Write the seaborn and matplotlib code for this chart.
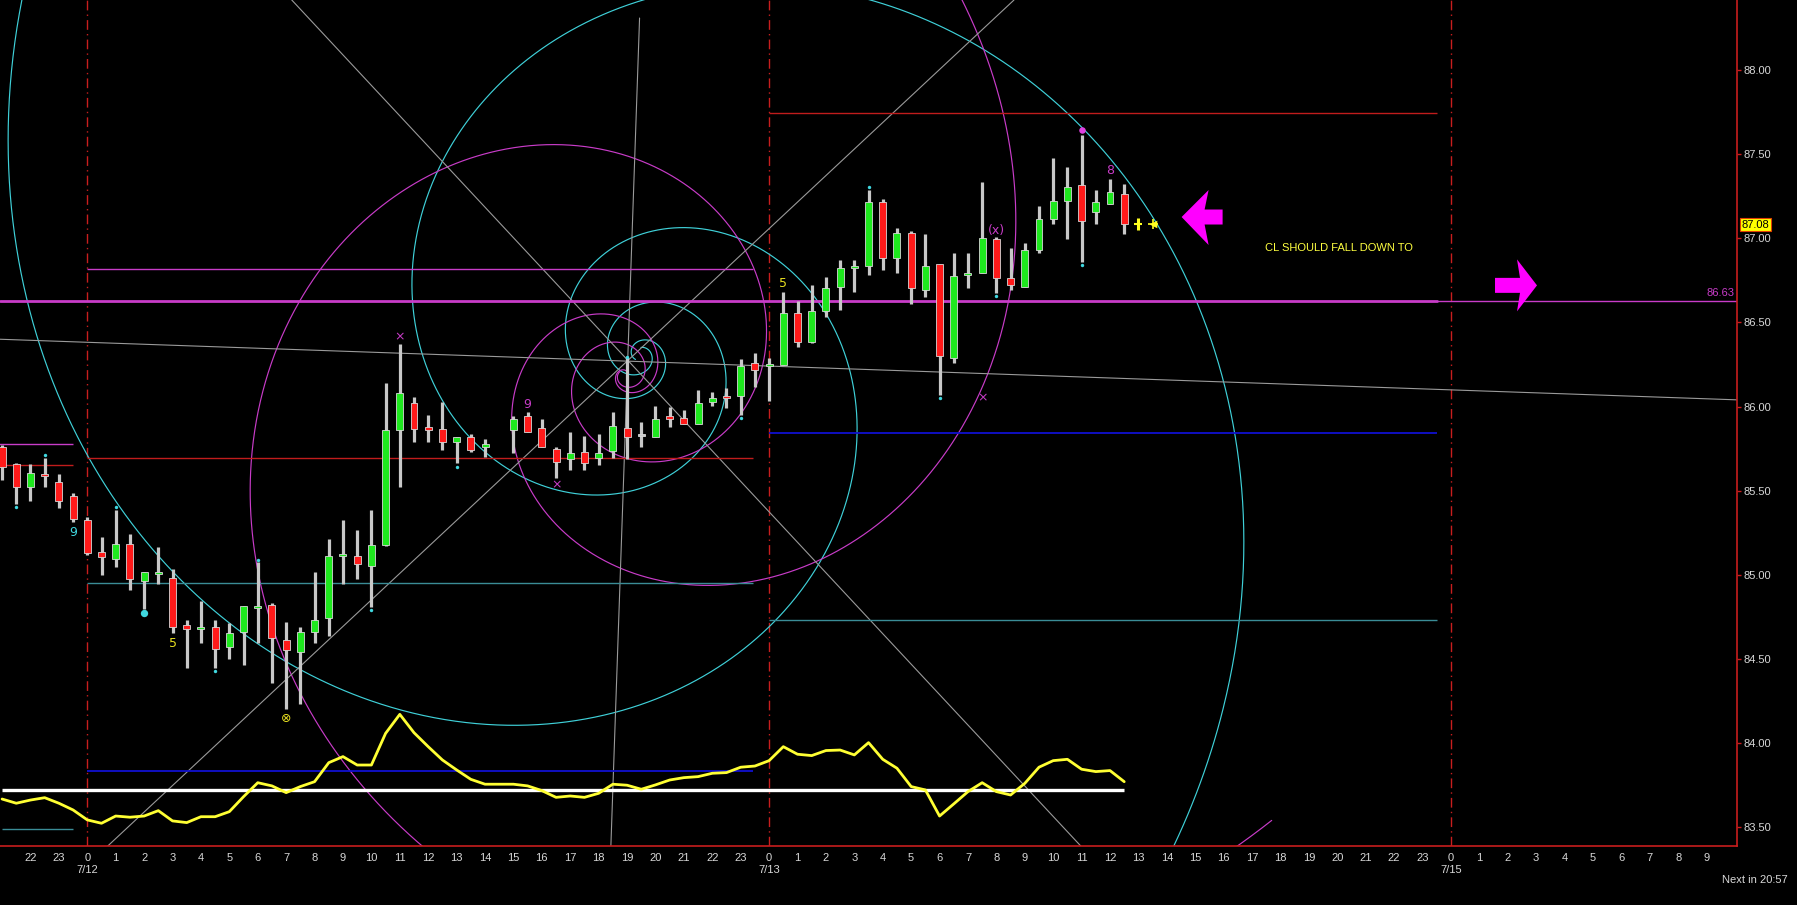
import numpy as np
import pandas as pd
import matplotlib
matplotlib.use("Agg")
import matplotlib.pyplot as plt
import seaborn as sns
from matplotlib.patches import Polygon
from matplotlib.transforms import blended_transform_factory

# ---------------- data (30-minute bars, x = hours from 7/12 00:00) ----------------
bar_hours = [-3.0, -2.5, -2.0, -1.5, -1.0, -0.5, 0.0, 0.5, 1.0, 1.5, 2.0, 2.5, 3.0, 3.5,
             4.0, 4.5, 5.0, 5.5, 6.0, 6.5, 7.0, 7.5, 8.0, 8.5, 9.0, 9.5, 10.0, 10.5,
             11.0, 11.5, 12.0, 12.5, 13.0, 13.5, 14.0, 15.0, 15.5, 16.0, 16.5, 17.0,
             17.5, 18.0, 18.5, 19.0, 19.5, 20.0, 20.5, 21.0, 21.5, 22.0, 22.5, 23.0,
             23.5, 24.0, 24.5, 25.0, 25.5, 26.0, 26.5, 27.0, 27.5, 28.0, 28.5, 29.0,
             29.5, 30.0, 30.5, 31.0, 31.5, 32.0, 32.5, 33.0, 33.5, 34.0, 34.5, 35.0,
             35.5, 36.0, 36.5]
opens = [85.762, 85.659, 85.525, 85.600, 85.554, 85.469, 85.326, 85.135, 85.093, 85.184,
         84.962, 85.006, 84.980, 84.701, 84.679, 84.689, 84.570, 84.661, 84.802, 84.820,
         84.614, 84.540, 84.661, 84.743, 85.113, 85.113, 85.053, 85.176, 85.861, 86.024,
         85.877, 85.865, 85.790, 85.818, 85.758, 85.861, 85.946, 85.875, 85.746, 85.687,
         85.732, 85.693, 85.738, 85.875, 85.826, 85.818, 85.946, 85.934, 85.895, 86.026,
         86.065, 86.065, 86.257, 86.243, 86.247, 86.558, 86.386, 86.570, 86.709, 86.823,
         86.835, 87.217, 86.881, 87.033, 86.693, 86.849, 86.287, 86.782, 86.796, 86.996,
         86.766, 86.709, 86.930, 87.112, 87.219, 87.316, 87.154, 87.203, 87.261]
highs = [85.770, 85.665, 85.659, 85.697, 85.600, 85.489, 85.342, 85.224, 85.386, 85.241,
         85.020, 85.168, 85.034, 84.733, 84.845, 84.733, 84.717, 84.816, 85.079, 84.832,
         84.721, 84.689, 85.016, 85.214, 85.327, 85.267, 85.386, 86.139, 86.372, 86.055,
         85.950, 86.026, 85.822, 85.835, 85.808, 85.946, 85.970, 85.926, 85.762, 85.847,
         85.825, 85.837, 85.966, 86.297, 85.911, 86.004, 85.996, 85.980, 86.099, 86.085,
         86.109, 86.283, 86.317, 86.287, 86.679, 86.627, 86.722, 86.772, 86.871, 86.871,
         87.287, 87.233, 87.059, 87.043, 87.025, 86.849, 86.910, 86.910, 87.332, 87.009,
         86.940, 86.970, 87.191, 87.475, 87.425, 87.613, 87.287, 87.352, 87.322]
lows = [85.564, 85.422, 85.441, 85.525, 85.400, 85.315, 85.121, 85.002, 85.049, 84.911,
        84.796, 84.946, 84.653, 84.448, 84.598, 84.446, 84.499, 84.463, 84.594, 84.356,
        84.202, 84.234, 84.594, 84.639, 84.944, 84.974, 84.812, 85.170, 85.525, 85.792,
        85.792, 85.742, 85.663, 85.732, 85.703, 85.727, 85.847, 85.758, 85.574, 85.624,
        85.624, 85.653, 85.693, 85.687, 85.762, 85.818, 85.877, 85.895, 85.895, 86.004,
        85.990, 85.950, 86.119, 86.035, 86.247, 86.356, 86.376, 86.530, 86.574, 86.679,
        86.782, 86.811, 86.796, 86.610, 86.649, 86.069, 86.257, 86.702, 86.792, 86.677,
        86.693, 86.709, 86.910, 87.083, 86.995, 86.861, 87.083, 87.203, 87.025]
closes = [85.643, 85.525, 85.604, 85.588, 85.441, 85.334, 85.133, 85.105, 85.182, 84.974,
          85.020, 85.020, 84.689, 84.681, 84.693, 84.558, 84.653, 84.816, 84.812, 84.624,
          84.554, 84.661, 84.731, 85.111, 85.123, 85.065, 85.176, 85.861, 86.079, 85.865,
          85.861, 85.792, 85.818, 85.742, 85.776, 85.926, 85.847, 85.758, 85.673, 85.727,
          85.663, 85.727, 85.887, 85.822, 85.826, 85.924, 85.924, 85.895, 86.024, 86.053,
          86.053, 86.243, 86.218, 86.247, 86.558, 86.386, 86.570, 86.707, 86.821, 86.833,
          87.217, 86.881, 87.029, 86.707, 86.837, 86.301, 86.778, 86.796, 87.000, 86.766,
          86.722, 86.930, 87.112, 87.219, 87.302, 87.102, 87.217, 87.273, 87.085]
# yellow oscillator drawn on the price scale
osc_values = [83.669, 83.644, 83.663, 83.677, 83.644, 83.604, 83.545, 83.525, 83.568, 83.561,
              83.568, 83.600, 83.539, 83.529, 83.564, 83.564, 83.594, 83.683, 83.766, 83.747,
              83.707, 83.743, 83.772, 83.885, 83.921, 83.871, 83.871, 84.059, 84.172, 84.063,
              83.980, 83.901, 83.842, 83.786, 83.757, 83.757, 83.747, 83.719, 83.679, 83.687,
              83.679, 83.703, 83.757, 83.751, 83.727, 83.753, 83.782, 83.796, 83.802, 83.822,
              83.826, 83.858, 83.865, 83.897, 83.980, 83.935, 83.927, 83.957, 83.960, 83.931,
              84.004, 83.905, 83.852, 83.743, 83.723, 83.568, 83.640, 83.713, 83.766, 83.713,
              83.693, 83.762, 83.858, 83.897, 83.905, 83.846, 83.832, 83.838, 83.772]

last_price = 87.08
target_price = 86.63
hour_ticks = list(range(-2, 58))
date_ticks = [0, 24, 48]
date_labels = ["7/12", "7/13", "7/15"]
y_ticks = [83.5, 84.0, 84.5, 85.0, 85.5, 86.0, 86.5, 87.0, 87.5, 88.0]

# horizontal drawing-tool levels: (price, x_start, x_end, colour, width)
levels = [
    (87.741, 24.0, 47.5, "#c01c1c", 1.0),
    (86.816, 0.0, 23.43, "#c83cc8", 1.0),
    (85.778, -3.1, -0.5, "#c83cc8", 1.0),
    (85.653, -3.1, -0.5, "#c01c1c", 1.0),
    (85.693, 0.0, 23.43, "#c01c1c", 1.0),
    (85.842, 24.0, 47.5, "#1010d0", 1.3),
    (84.951, 0.0, 23.43, "#3a8c96", 1.0),
    (84.730, 24.0, 47.5, "#3a8c96", 1.0),
    (83.836, 0.0, 23.43, "#1010d0", 1.3),
    (83.720, -3.0, 36.5, "#ffffff", 2.4),
    (83.489, -3.0, -0.5, "#3a8c96", 1.0),
]
# gray trend / angle lines: ((h0, p0), (h1, p1))
gray_lines = [((-3.073, 86.400), (58.07, 86.040)),
              ((7.197, 88.415), (34.97, 83.39)),
              ((0.72, 83.39), (32.62, 88.415)),
              ((19.44, 88.308), (18.43, 83.39))]

# signal marks
cyan_dots = [(-2.5, 85.406), (-1.5, 85.711), (1.0, 85.402), (4.5, 84.432), (6.0, 85.089),
             (10.0, 84.792), (13.0, 85.643), (19.0, 86.297), (23.0, 85.934), (27.5, 87.302),
             (30.0, 86.049), (32.0, 86.659), (35.0, 86.841)]
labels_marks = [(-0.5, 85.251, "9", "#40d8e0"), (3.0, 84.590, "5", "#e8e020"),
                (7.0, 84.149, "\u2297", "#e8e020"), (11.0, 86.412, "\u00d7", "#c83cc8"),
                (15.5, 86.010, "9", "#c83cc8"), (16.5, 85.535, "\u00d7", "#c83cc8"),
                (24.5, 86.732, "5", "#e8e020"), (31.5, 86.049, "\u00d7", "#c83cc8"),
                (32.0, 87.043, "(x)", "#c83cc8"), (36.0, 87.405, "8", "#c83cc8")]

# ---------------- style ----------------
sns.set_theme(style="dark")
plt.rcParams["font.family"] = ["Liberation Sans", "DejaVu Sans"]

PX_H = 28.41    # pixels per hour
PX_P = 168.36   # pixels per dollar

fig = plt.figure(figsize=(17.97, 9.05), dpi=100, facecolor="black")
ax = fig.add_axes([0, 1 - 846 / 905, 1737 / 1797, 846 / 905])
ax.set_facecolor("black")
ax.grid(False)
XMIN, XMAX = -3.073, 58.07
YMIN, YMAX = 83.39, 88.415

# Fibonacci-style spirals (drawing tools): r = r0 * exp(b * (t - t_ref)) in pixels
def spiral(ch, cp, r0, b, t_ref, t0, t1):
    t = np.linspace(t0, t1, 3000)
    r = r0 * np.exp(b * (t - t_ref))
    return ch + r * np.cos(t) / PX_H, cp + r * np.sin(t) / PX_P

cy_c = (19.454, 86.307)
for r0, b, tr, t0, t1 in [(576, -0.31, 0.0, -1.3, 14.0), (657, -0.34, 2.86, 1.8, 16.5)]:
    xs, ys = spiral(cy_c[0], cy_c[1], r0, b, tr, t0, t1)
    ax.plot(xs, ys, color="#3fd0d8", lw=0.85, zorder=2)
mg_c = (18.927, 86.188)
for r0, b, tr, t0, t1 in [(135, 0.31, 0.0, -10.0, 5.68), (427, 0.394, 6.70, -5.5, 9.9)]:
    xs, ys = spiral(mg_c[0], mg_c[1], r0, b, tr, t0, t1)
    ax.plot(xs, ys, color="#c83cc8", lw=0.85, zorder=2)

for (h0, p0), (h1, p1) in gray_lines:
    ax.plot([h0, h1], [p0, p1], color="#9a9a9a", lw=0.8, zorder=2)

for p, x0, x1, c, w in levels:
    ax.plot([x0, x1], [p, p], color=c, lw=w, zorder=2, solid_capstyle="butt")
ax.plot([XMIN, 47.5], [target_price, target_price], color="#c83cc8", lw=2.0, zorder=2)
ax.plot([47.5, XMAX], [target_price, target_price], color="#c83cc8", lw=1.0, zorder=2)

for d in date_ticks:
    ax.axvline(d, color="#c81e1e", lw=1.0, ls=(0, (7, 3, 1, 3)), zorder=1)

# oscillator
osc = pd.DataFrame({"h": bar_hours, "v": osc_values})
sns.lineplot(data=osc, x="h", y="v", ax=ax, color="#ffff33", lw=2.0, zorder=4)

# candles
df = pd.DataFrame({"h": bar_hours, "o": opens, "hi": highs, "lo": lows, "c": closes})
ax.vlines(df["h"], df["lo"], df["hi"], color="#c8c8c8", lw=2.3, zorder=5)
for _, r in df.iterrows():
    diff = r["c"] - r["o"]
    if abs(diff) < 0.002:
        col = "#c8c8c8"
    elif diff > 0:
        col = "#1ee81e"
    else:
        col = "#ff1a1a"
    bottom = min(r["o"], r["c"])
    height = max(abs(diff), 0.012)
    ax.bar(r["h"], height, bottom=bottom, width=0.245, color=col,
           edgecolor="#d8d8d8", linewidth=0.6, zorder=6)

# marks
ax.scatter([d[0] for d in cyan_dots], [d[1] for d in cyan_dots], s=6, color="#40d8e0",
           zorder=7, linewidths=0)
ax.scatter([2.0], [84.772], s=28, color="#40d8e0", zorder=7, linewidths=0)
ax.scatter([35.0], [87.643], s=22, color="#e040e0", zorder=7, linewidths=0)
for h, p, t, c in labels_marks:
    ax.text(h, p, t, color=c, fontsize=9, ha="center", va="center", zorder=7,
            family=["DejaVu Sans"])
ax.scatter([37.0], [last_price + 0.005], marker="|", s=70, color="#ffff20", lw=2.2, zorder=7)
ax.scatter([37.0], [last_price + 0.005], marker="_", s=40, color="#ffff20", lw=1.5, zorder=7)
ax.scatter([37.5], [last_price + 0.005], marker="<", s=30, color="#ffff20", lw=0, zorder=7)
ax.scatter([37.5], [last_price + 0.005], marker="+", s=45, color="#ffff20", lw=1.2, zorder=7)

# arrows (shape in pixels, placed at data tips)
def arrow(tip_h, tip_p, pts_px):
    verts = [(tip_h + dx / PX_H, tip_p - dy / PX_P) for dx, dy in pts_px]
    ax.add_patch(Polygon(verts, closed=True, color="#ff00ff", zorder=8, lw=0))

arrow(38.52, 87.126, [(0, 0), (27, -27), (23, -7.5), (41, -7.5), (41, 7.5), (23, 7.5), (27, 28)])
arrow(51.03, 86.72, [(0, 0), (-20, -26), (-17, -7.5), (-42, -7.5), (-42, 7.5), (-17, 7.5), (-20, 26)])

ax.text(41.45, 86.94, "CL SHOULD FALL DOWN TO", color="#ffff40", fontsize=8,
        ha="left", va="center", zorder=8)

tr_yx = blended_transform_factory(ax.transAxes, ax.transData)
ax.text(0.9985, target_price + 0.012, f"{target_price:.2f}", color="#c83cc8", fontsize=8,
        ha="right", va="bottom", transform=tr_yx, zorder=8)
ax.text(1.0025, last_price, f"{last_price:.2f}", color="black", fontsize=8, ha="left",
        va="center", transform=tr_yx, zorder=9, clip_on=False,
        bbox=dict(boxstyle="square,pad=0.15", fc="#ffff00", ec="#e04000", lw=0.8))

# axes
ax.set_xlim(XMIN, XMAX)
ax.set_ylim(YMIN, YMAX)
ax.set_xlabel("")
ax.set_ylabel("")
for s in ["top", "left"]:
    ax.spines[s].set_visible(False)
for s in ["right", "bottom"]:
    ax.spines[s].set_visible(True)
    ax.spines[s].set_color("#c81e1e")
    ax.spines[s].set_linewidth(1.2)
ax.yaxis.tick_right()
ax.set_yticks(y_ticks)
ax.set_yticklabels([f"{v:.2f}" for v in y_ticks])
ax.set_xticks(hour_ticks)
ax.set_xticklabels([str(h % 24) for h in hour_ticks])
ax.tick_params(axis="both", colors="#c81e1e", labelcolor="#d8d8d8", labelsize=8,
               length=3, width=1, direction="out", pad=2)
tr_xd = ax.get_xaxis_transform()
for d, lab in zip(date_ticks, date_labels):
    ax.text(d, -0.0284, lab, color="#d8d8d8", fontsize=8, ha="center", va="center",
            transform=tr_xd, clip_on=False)
fig.text(1788 / 1797, 1 - 880 / 905, "Next in 20:57", color="#d8d8d8", fontsize=8,
         ha="right", va="center")

fig.savefig("out.png", dpi=100, facecolor="black")
